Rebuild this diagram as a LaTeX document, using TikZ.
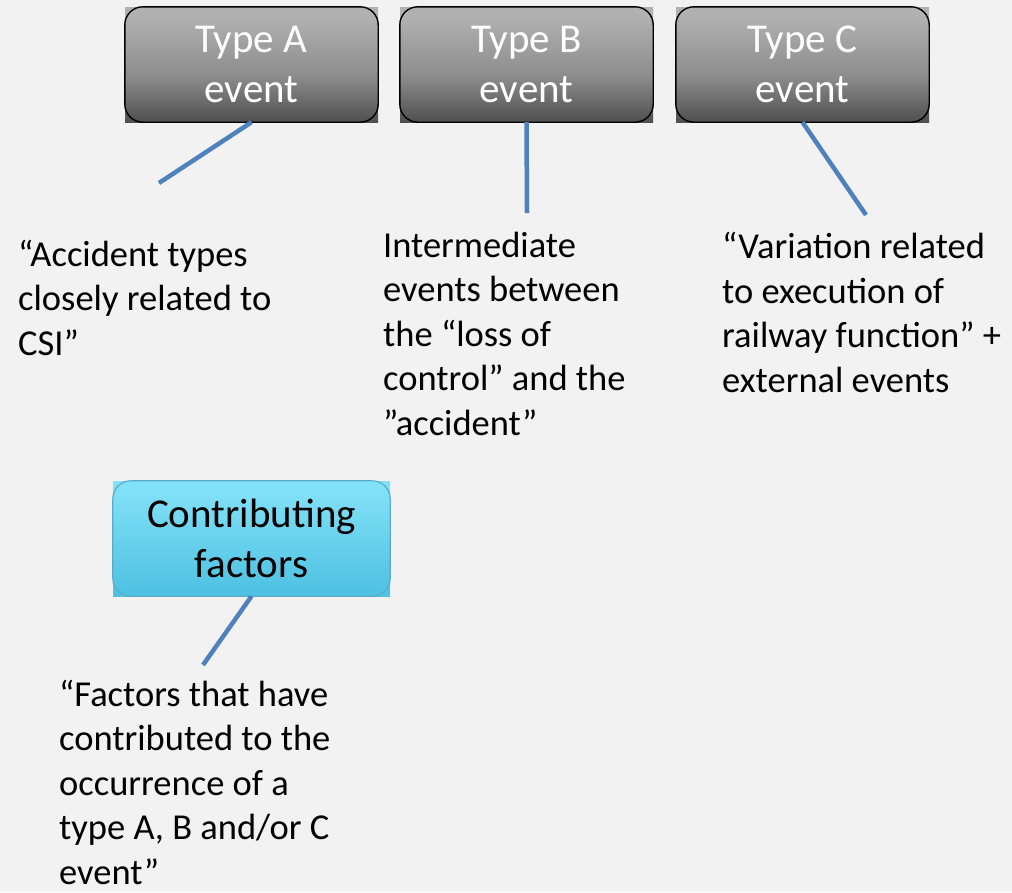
\documentclass[tikz,border=0pt]{standalone}
\usepackage{fontspec}
\setmainfont{Carlito}
\usetikzlibrary{calc}

\definecolor{pagebg}{HTML}{F2F2F2}
\definecolor{linkblue}{HTML}{4F81BD}
\definecolor{cyanedge}{HTML}{5AAAC8}
\definecolor{cfa}{HTML}{3EB4D8}
\definecolor{cfb}{HTML}{52C4E4}
\definecolor{cfc}{HTML}{80E0F6}
\definecolor{cfd}{HTML}{92ECFF}

% dark event box: light grey on top fading to black at the bottom
\pgfdeclareverticalshading{evshade}{100bp}{%
  color(0bp)=(black); color(10bp)=(black!90!white); color(25bp)=(black!69!white);
  color(45bp)=(black!45!white); color(70bp)=(black!31!white); color(100bp)=(black!28!white)}
% contributing factors box: pale cyan fading to deeper cyan
\pgfdeclareverticalshading{cfshade}{100bp}{%
  color(0bp)=(cfa); color(30bp)=(cfb); color(70bp)=(cfc); color(100bp)=(cfd)}

\tikzset{
  evbox/.style={shading=evshade, inner sep=0, minimum width=253pt, minimum height=115pt,
    align=center, text=white, font=\fontsize{41}{50}\selectfont},
  cfbox/.style={shading=cfshade, inner sep=0, minimum width=277pt, minimum height=115pt,
    align=center, text=black, font=\fontsize{41}{50}\selectfont},
  evedge/.style={draw=black, line width=1.4pt, rounded corners=18pt},
  cfedge/.style={draw=cyanedge, line width=1.2pt, rounded corners=18pt},
  % the base anchor of a multi-line note sits on its last line
  note/.style={anchor=base west, inner sep=0, align=left, font=\fontsize{36.5}{44.5}\selectfont},
  link/.style={draw=linkblue, line width=4.5pt}
}

\begin{document}
\begin{tikzpicture}[x=1pt, y=-1pt]
  \fill[pagebg] (0,0) rectangle (1012,892);
  \useasboundingbox (0,0) rectangle (1012,892);

  % event boxes
  \node[evbox] (ta) at (251.5,64.5) {Type A\\event};
  \node[evbox] (tb) at (526.5,64.5) {Type B\\event};
  \node[evbox] (tc) at (802.5,64.5) {Type C\\event};
  \foreach \b in {ta,tb,tc}
    \draw[evedge] (\b.south west) rectangle (\b.north east);

  % contributing factors box
  \node[cfbox] (cf) at (251.5,538.5) {Contributing\\factors};
  \draw[cfedge] (cf.south west) rectangle (cf.north east);

  % descriptions (positioned by the baseline of their last line)
  \node[note] (na) at (18,355) {“Accident types\\closely related to\\CSI”};
  \node[note] (nb) at (383,435) {Intermediate\\events between\\the “loss of\\control” and the\\”accident”};
  \node[note] (nc) at (722,392) {“Variation related\\to execution of\\railway function” +\\external events};
  \node[note] (nf) at (59,884) {“Factors that have\\contributed to the\\occurrence of a\\type A, B and/or C\\event”};

  % connector ends
  \coordinate (ea) at (159,183);
  \coordinate (eb) at (527,213);
  \coordinate (ec) at (866,215);
  \coordinate (ef) at (203,665);

  \draw[link] (ta.south) -- (ea);
  \draw[link] (tb.south) -- (eb);
  \draw[link] (tc.south) -- (ec);
  \draw[link] (cf.south) -- (ef);
\end{tikzpicture}
\end{document}
